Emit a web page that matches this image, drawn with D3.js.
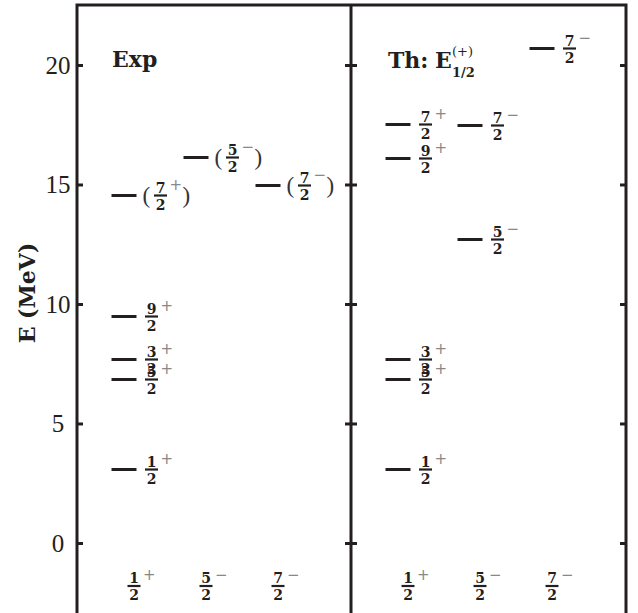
<!DOCTYPE html>
<meta charset="utf-8">
<style>
  body { margin: 0; background: #fff; }
  .frame { stroke: #231f20; stroke-width: 3px; fill: none; }
  .level { stroke: #231f20; stroke-width: 3px; }
  .num { font-family: "DejaVu Serif", serif; font-weight: bold; font-size: 14px; fill: #231f20; }
  .sign { font-family: "DejaVu Sans", sans-serif; font-size: 15px; fill: #888; }
  .paren { font-family: "Liberation Serif", serif; font-size: 23px; fill: #333; }
  .title { font-family: "DejaVu Serif", serif; font-weight: bold; font-size: 22px; fill: #231f20; }
</style>
<body>
<div id="chart"></div>
<script src="https://d3js.org/d3.v7.min.js"></script>
<script>
  // spin-parity columns (bottom labels)
  var colJ = ["1", "5", "7"];
  var colP = ["+", "\u2212", "\u2212"];

  // experimental levels
  var expCol = [0, 0, 0, 0, 0, 1, 2];
  var expE = [3.1, 6.86, 7.7, 9.5, 14.56, 16.15, 14.98];
  var expJ = ["1", "5", "3", "9", "7", "5", "7"];
  var expP = ["+", "+", "+", "+", "+", "\u2212", "\u2212"];
  var expTentative = [false, false, false, false, true, true, true];

  // theoretical levels
  var thCol = [0, 0, 0, 0, 0, 1, 1, 2];
  var thE = [3.1, 6.86, 7.7, 16.1, 17.53, 12.72, 17.49, 20.71];
  var thJ = ["1", "5", "3", "9", "7", "5", "7", "7"];
  var thP = ["+", "+", "+", "+", "+", "\u2212", "\u2212", "\u2212"];

  var yTicks = [0, 5, 10, 15, 20];

  var W = 638, H = 613;
  var axLeft = 77, axMid = 351, axRight = 626, axTop = 5;

  var svg = d3.select("#chart").append("svg")
    .attr("width", W).attr("height", H);

  var y = d3.scaleLinear().domain([-2.93, 22.51]).range([613, 5]);

  // column position within each panel
  var xExp = d3.scaleBand().domain([0, 1, 2]).range([axLeft + 11, axLeft + 227]);
  var xTh = d3.scaleBand().domain([0, 1, 2]).range([axMid + 11, axMid + 227]);
  function cx(scale, c) { return scale(c) + scale.bandwidth() / 2; }

  // fraction label: bar centred at (x, yb)
  function fraction(g, x, yb, j, p) {
    g.append("text").attr("class", "num").attr("x", x).attr("y", yb - 3)
      .attr("text-anchor", "middle").text(j);
    g.append("line").attr("x1", x - 6.5).attr("x2", x + 6.5)
      .attr("y1", yb).attr("y2", yb)
      .attr("stroke", "#231f20").attr("stroke-width", 2.2);
    g.append("text").attr("class", "num").attr("x", x).attr("y", yb + 14)
      .attr("text-anchor", "middle").text("2");
    g.append("text").attr("class", "sign").attr("x", x + 9).attr("y", yb - 6)
      .text(p);
  }

  function drawLevels(scale, cols, E, J, P, tent) {
    var g = svg.append("g");
    cols.forEach(function (c, i) {
      var xc = cx(scale, c);
      var yy = Math.round(y(E[i])) + 0.5;
      g.append("line").attr("class", "level")
        .attr("x1", xc - 12.5).attr("x2", xc + 12.5)
        .attr("y1", yy).attr("y2", yy);
      if (tent && tent[i]) {
        var fx = xc + 12.5 + 24;
        g.append("text").attr("class", "paren").attr("x", xc + 12.5 + 6).attr("y", yy + 7).text("(");
        fraction(g, fx, yy, J[i], P[i]);
        g.append("text").attr("class", "paren").attr("x", fx + 22).attr("y", yy + 7).text(")");
      } else {
        fraction(g, xc + 12.5 + 15, yy, J[i], P[i]);
      }
    });
    // bottom spin-parity labels
    colJ.forEach(function (j, c) {
      fraction(g, cx(scale, c) + 10, 586, j, colP[c]);
    });
  }

  drawLevels(xExp, expCol, expE, expJ, expP, expTentative);
  drawLevels(xTh, thCol, thE, thJ, thP, null);

  // axes ticks
  var axL = svg.append("g").attr("transform", "translate(" + axLeft + ",0)")
    .call(d3.axisLeft(y).tickValues(yTicks).tickSize(-6).tickPadding(19));
  axL.select(".domain").remove();
  axL.selectAll(".tick line").attr("stroke", "#231f20").attr("stroke-width", 3);
  axL.selectAll(".tick text")
    .attr("text-anchor", "middle")
    .attr("font-family", "Liberation Serif, serif")
    .attr("font-size", 25)
    .attr("fill", "#231f20")
    .attr("dy", "0.33em");

  [d3.axisLeft(y).tickSize(6), d3.axisRight(y).tickSize(6)].forEach(function (ax) {
    var g = svg.append("g").attr("transform", "translate(" + axMid + ",0)")
      .call(ax.tickValues(yTicks).tickFormat(""));
    g.select(".domain").remove();
    g.selectAll(".tick line").attr("stroke", "#231f20").attr("stroke-width", 3);
  });
  var axR = svg.append("g").attr("transform", "translate(" + axRight + ",0)")
    .call(d3.axisLeft(y).tickValues(yTicks).tickSize(6).tickFormat(""));
  axR.select(".domain").remove();
  axR.selectAll(".tick line").attr("stroke", "#231f20").attr("stroke-width", 3);

  // frame
  svg.append("path").attr("class", "frame")
    .attr("d", "M" + axLeft + "," + H + "V" + axTop + "H" + axRight + "V" + H);
  svg.append("line").attr("class", "frame")
    .attr("x1", axMid).attr("x2", axMid).attr("y1", axTop).attr("y2", H);

  // panel titles
  svg.append("text").attr("class", "title").attr("x", 112).attr("y", 67).text("Exp");
  svg.append("text").attr("class", "title").attr("x", 388).attr("y", 68).text("Th:");
  svg.append("text").attr("class", "title").attr("x", 435).attr("y", 68)
    .attr("font-size", 21).text("E");
  svg.append("text").attr("x", 452).attr("y", 56)
    .attr("font-family", "DejaVu Serif, serif").attr("font-size", 13).attr("fill", "#231f20")
    .text("(+)");
  svg.append("text").attr("x", 452).attr("y", 77)
    .attr("font-family", "DejaVu Serif, serif").attr("font-weight", "bold").attr("font-size", 13).attr("fill", "#231f20")
    .text("1/2");

  // y axis label
  svg.append("text").attr("class", "title")
    .attr("transform", "translate(35,293) rotate(-90)")
    .attr("text-anchor", "middle")
    .attr("font-size", 23)
    .text("E (MeV)");
</script>
</body>
